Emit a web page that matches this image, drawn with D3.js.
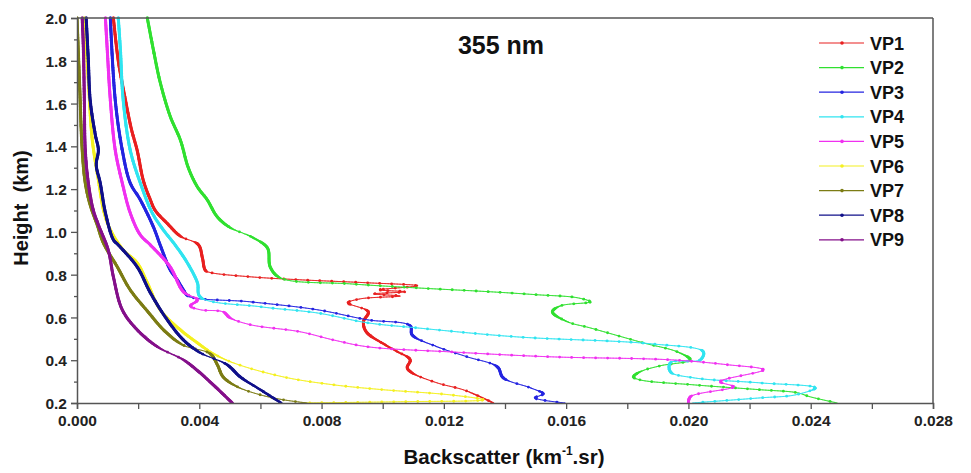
<!DOCTYPE html>
<html><head><meta charset="utf-8">
<script src="https://cdn.jsdelivr.net/npm/d3@7"></script>
<style>body{margin:0;background:#fff}svg{font-family:"Liberation Sans",Arial,sans-serif}</style>
</head><body>
<svg id="c" width="971" height="473"></svg>
<script>
// [backscatter (km-1.sr), height (km)]
const VP1 = [[0.00119,2.0],[0.00135,1.80],[0.00158,1.62],[0.00178,1.48],[0.00197,1.38],[0.00217,1.24],[0.0024,1.15],[0.00256,1.10],[0.00295,1.04],[0.00338,0.98],[0.00397,0.94],[0.0041,0.88],[0.0042,0.82],[0.00436,0.81],[0.00567,0.79],[0.0073,0.776],[0.0095,0.762],[0.01113,0.748],[0.0099,0.729],[0.01074,0.72],[0.0097,0.71],[0.01057,0.70],[0.00927,0.687],[0.00887,0.668],[0.00953,0.626],[0.00937,0.58],[0.00946,0.533],[0.01008,0.472],[0.01048,0.44],[0.0109,0.402],[0.0108,0.365],[0.01096,0.341],[0.01178,0.294],[0.01263,0.262],[0.01319,0.229],[0.01362,0.2]];
const VP2 = [[0.0023,2.0],[0.0025,1.85],[0.00272,1.70],[0.00305,1.54],[0.00338,1.43],[0.00364,1.30],[0.00394,1.21],[0.00426,1.15],[0.00459,1.07],[0.00501,1.02],[0.00557,0.986],[0.00577,0.972],[0.00623,0.925],[0.00632,0.836],[0.00665,0.785],[0.00894,0.757],[0.01113,0.738],[0.01352,0.72],[0.01506,0.706],[0.01637,0.692],[0.01679,0.673],[0.01581,0.654],[0.01555,0.626],[0.01604,0.58],[0.01679,0.551],[0.01853,0.481],[0.01964,0.439],[0.02006,0.402],[0.01908,0.374],[0.01842,0.346],[0.0182,0.322],[0.01842,0.308],[0.02016,0.285],[0.02235,0.262],[0.02356,0.248],[0.02398,0.229],[0.02487,0.2]];
const VP3 = [[0.00109,2.0],[0.00125,1.617],[0.00148,1.383],[0.00174,1.229],[0.00207,1.15],[0.0025,1.023],[0.00272,0.939],[0.00305,0.822],[0.00328,0.776],[0.00348,0.729],[0.00364,0.70],[0.00567,0.673],[0.00786,0.636],[0.0095,0.589],[0.0109,0.561],[0.01096,0.519],[0.01178,0.463],[0.01276,0.416],[0.01375,0.369],[0.01394,0.318],[0.01483,0.271],[0.01525,0.243],[0.01499,0.224],[0.01597,0.2]];
const VP4 = [[0.00135,2.0],[0.00142,1.85],[0.00151,1.617],[0.00174,1.383],[0.00207,1.229],[0.00246,1.089],[0.00282,1.01],[0.00321,0.939],[0.00361,0.855],[0.00394,0.762],[0.00403,0.696],[0.006,0.65],[0.00786,0.621],[0.0095,0.575],[0.01113,0.551],[0.0144,0.509],[0.01875,0.477],[0.02049,0.439],[0.02039,0.402],[0.01941,0.388],[0.01941,0.346],[0.02016,0.318],[0.02235,0.294],[0.02415,0.271],[0.0235,0.238],[0.02235,0.224],[0.02013,0.2]];
const VP5 = [[0.00093,2.0],[0.00099,1.85],[0.00109,1.617],[0.00125,1.383],[0.00148,1.229],[0.00174,1.089],[0.00207,0.986],[0.0024,0.939],[0.00305,0.836],[0.00348,0.72],[0.00394,0.682],[0.00371,0.654],[0.00403,0.636],[0.00478,0.626],[0.00501,0.598],[0.00567,0.566],[0.0073,0.533],[0.00838,0.495],[0.0095,0.463],[0.01221,0.439],[0.01548,0.416],[0.0194,0.402],[0.02127,0.379],[0.02245,0.355],[0.02104,0.30],[0.02147,0.276],[0.02006,0.229],[0.02,0.2]];
const VP6 = [[0.00024,2.0],[0.00037,1.71],[0.0005,1.43],[0.0007,1.243],[0.00089,1.089],[0.00109,1.01],[0.00151,0.916],[0.00197,0.855],[0.0023,0.762],[0.00272,0.636],[0.00338,0.542],[0.00394,0.481],[0.00436,0.439],[0.00511,0.388],[0.00675,0.322],[0.00839,0.285],[0.01002,0.262],[0.01221,0.238],[0.01329,0.215],[0.01057,0.206],[0.0073,0.2]];
const VP7 = [[0.0,2.0],[0.00008,1.71],[0.00017,1.383],[0.00027,1.229],[0.00043,1.126],[0.00066,1.033],[0.00086,0.949],[0.00132,0.836],[0.00174,0.729],[0.0023,0.63],[0.00288,0.535],[0.00348,0.47],[0.00436,0.43],[0.00459,0.379],[0.00478,0.322],[0.00524,0.276],[0.006,0.238],[0.00675,0.215],[0.00753,0.2]];
const VP8 = [[0.0003,2.0],[0.00037,1.804],[0.00043,1.617],[0.0006,1.453],[0.0007,1.383],[0.00063,1.313],[0.00076,1.229],[0.00093,1.089],[0.00119,0.963],[0.00135,0.939],[0.00197,0.836],[0.0024,0.715],[0.00295,0.589],[0.00348,0.495],[0.00403,0.435],[0.00491,0.379],[0.00534,0.322],[0.006,0.262],[0.00668,0.2]];
const VP9 = [[0.00017,2.0],[0.00021,1.85],[0.00024,1.617],[0.00027,1.383],[0.00037,1.229],[0.00053,1.103],[0.0007,1.033],[0.00102,0.916],[0.00119,0.79],[0.00148,0.636],[0.00197,0.542],[0.00263,0.463],[0.00348,0.402],[0.00387,0.36],[0.00442,0.29],[0.00508,0.2]];

const seriesNames = ["VP1","VP2","VP3","VP4","VP5","VP6","VP7","VP8","VP9"];
const seriesData = [VP1,VP2,VP3,VP4,VP5,VP6,VP7,VP8,VP9];
const seriesColors = ["#e82020","#30e030","#2424e0","#30e4f0","#f030f0","#f4f020","#7c7c14","#10108a","#84108a"];
const xTicks = [0,0.002,0.004,0.006,0.008,0.010,0.012,0.014,0.016,0.018,0.020,0.022,0.024,0.026,0.028];
const xLabels = [0,0.004,0.008,0.012,0.016,0.020,0.024,0.028];
const yTicks = [0.2,0.4,0.6,0.8,1.0,1.2,1.4,1.6,1.8,2.0];
const yMinor = [0.3,0.5,0.7,0.9,1.1,1.3,1.5,1.7,1.9];

const svg = d3.select("#c");
const L=77, T=18, R=933, B=403;
const x = d3.scaleLinear().domain([0,0.028]).range([L,R]);
const y = d3.scaleLinear().domain([0.2,2.0]).range([B,T]);
const axisCol = "#555";

svg.append("clipPath").attr("id","clip").append("rect").attr("x",L).attr("y",T-2).attr("width",R-L).attr("height",B-T+3);
const cg = svg.append("g").attr("clip-path","url(#clip)");
const smooth = t => t<=0?0:t>=1?1:t*t*(3-2*t);
const lineGen = d3.line().x(v=>x(v[0])).y(v=>y(v[1])).curve(d3.curveCatmullRom.alpha(0.5));

seriesData.forEach((d,i)=>{
  const col = seriesColors[i];
  const g = cg.append("g");
  const p = g.append("path").attr("d",lineGen(d)).attr("fill","none").attr("stroke","none");
  const node=p.node(), tl=node.getTotalLength();
  const step=1.5;
  let prev=node.getPointAtLength(0);
  for(let s=step;s<=tl+step;s+=step){
    const pt=node.getPointAtLength(Math.min(s,tl));
    const len=Math.hypot(pt.x-prev.x,pt.y-prev.y)||1;
    const sl=Math.abs(pt.y-prev.y)/len;
    g.append("line").attr("x1",prev.x).attr("y1",prev.y).attr("x2",pt.x).attr("y2",pt.y)
      .attr("stroke",col).attr("stroke-width",0.9+2.1*smooth((sl-0.3)/0.35)).attr("stroke-linecap","round");
    prev=pt;
  }
  for(let s=0;s<tl;s+=12){
    const pt=node.getPointAtLength(s);
    g.append("circle").attr("cx",pt.x).attr("cy",pt.y).attr("r",1.4).attr("fill",col);
  }
});

// frame
svg.append("line").attr("x1",L).attr("x2",R).attr("y1",T).attr("y2",T).attr("stroke",axisCol).attr("stroke-width",1.5);
svg.append("line").attr("x1",R).attr("x2",R).attr("y1",T).attr("y2",B).attr("stroke",axisCol).attr("stroke-width",1.5);

const xAxis = svg.append("g").attr("transform",`translate(0,${B})`)
  .call(d3.axisBottom(x).tickValues(xTicks).tickSize(6).tickFormat(v=>xLabels.some(l=>Math.abs(l-v)<1e-9)?d3.format(".3f")(v):""));
const yAxis = svg.append("g").attr("transform",`translate(${L},0)`)
  .call(d3.axisLeft(y).tickValues(yTicks).tickSize(6).tickFormat(d3.format(".1f")));
svg.append("g").attr("transform",`translate(${L},0)`)
  .call(d3.axisLeft(y).tickValues(yMinor).tickSize(3).tickFormat(""))
  .select(".domain").remove();
svg.selectAll(".domain").attr("stroke",axisCol).attr("stroke-width",1.5);
svg.selectAll(".tick line").attr("stroke",axisCol).attr("stroke-width",1.3);
xAxis.selectAll("text").attr("font-size",15.5).attr("font-weight","bold").attr("fill","#222").attr("y",11).attr("dy","0.75em");
yAxis.selectAll("text").attr("font-size",15.5).attr("font-weight","bold").attr("fill","#222").attr("x",-10).attr("dy","0.36em");

// titles
svg.append("text").attr("x",501).attr("y",54).attr("text-anchor","middle").attr("font-size",25).attr("font-weight","bold").attr("fill","#111").text("355 nm");
svg.append("text").attr("transform","translate(28,208) rotate(-90)").attr("text-anchor","middle").attr("font-size",20).attr("font-weight","bold").attr("fill","#111").attr("xml:space","preserve").text("Height  (km)");
const xt = svg.append("text").attr("x",504).attr("y",464).attr("text-anchor","middle").attr("font-size",20.5).attr("font-weight","bold").attr("fill","#111");
xt.append("tspan").text("Backscatter (km");
xt.append("tspan").attr("font-size",12).attr("dy",-9).text("-1");
xt.append("tspan").attr("dy",9).text(".sr)");

// legend
const lg = svg.append("g");
seriesNames.forEach((n,i)=>{
  const yy = 43 + i*24.6;
  lg.append("line").attr("x1",819).attr("x2",864).attr("y1",yy).attr("y2",yy).attr("stroke",seriesColors[i]).attr("stroke-width",1.2);
  lg.append("circle").attr("cx",842).attr("cy",yy).attr("r",1.8).attr("fill",seriesColors[i]);
  lg.append("text").attr("x",870).attr("y",yy+6.5).attr("font-size",18).attr("font-weight","bold").attr("fill","#111").text(n);
});
</script>
</body></html>
